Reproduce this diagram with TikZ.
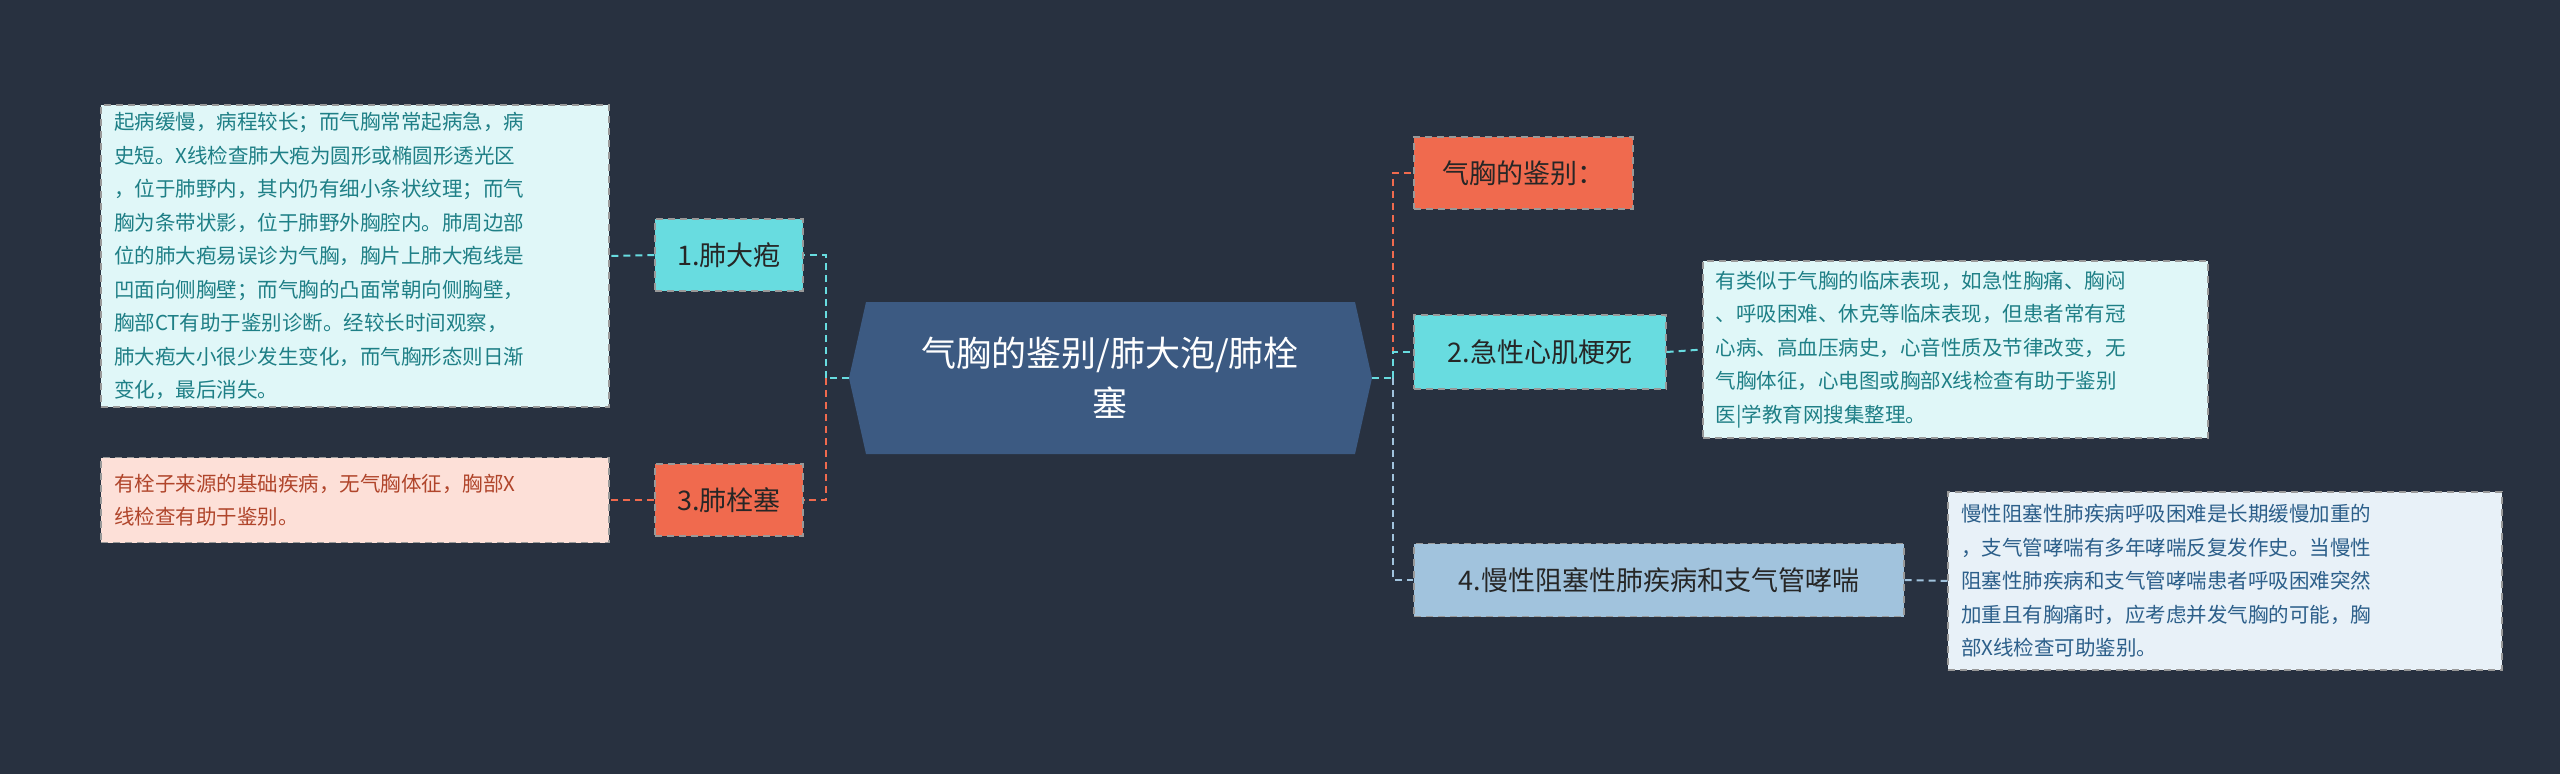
\documentclass[tikz,border=0pt]{standalone}
\usepackage{fontspec}
\setmainfont{Noto Sans CJK SC}
\begin{document}
\begin{tikzpicture}[x=1pt,y=-1pt,
  dl/.style={dash pattern=on 7pt off 5pt, line width=2pt},
  box/.style={draw=white!60!black, dl, line width=1.2pt, anchor=center, inner sep=0pt},
  detail/.style={box, align=left, font=\fontsize{20.5}{33.5}\selectfont},
  lab/.style={box, font=\fontsize{27}{32}\selectfont, text=black!85}]
\fill[fill={rgb,255:red,40;green,49;blue,64}] (0,0) rectangle (2560,774);
\useasboundingbox (0,0) rectangle (2560,774);
\definecolor{cy}{RGB}{104,220,224}
\definecolor{org}{RGB}{240,106,78}
\definecolor{bl}{RGB}{161,195,221}
\definecolor{ctr}{RGB}{60,90,130}
% center hexagon
\fill[ctr] (849,378) -- (866,302) -- (1355,302) -- (1372,378) -- (1355,454) -- (866,454) -- cycle;
\node[align=center, text=white, font=\fontsize{35}{50}\selectfont] (c) at (1110,378) {气胸的鉴别/肺大泡/肺栓\\塞};
\coordinate (cl) at (849,378);
\coordinate (cr) at (1372,378);
\coordinate (jl) at (826,378);
\coordinate (jr) at (1393,378);
% left nodes
\node[lab, fill=cy, minimum width=148pt, minimum height=72pt] (n1) at (729,255) {1.肺大疱};
\node[lab, fill=org, minimum width=148pt, minimum height=72pt] (n3) at (729,500) {3.肺栓塞};
\node[detail, fill={rgb,255:red,224;green,247;blue,248}, text={rgb,255:red,30;green,127;blue,134}, minimum width=508pt, minimum height=302pt, text width=482pt] (a) at (355,256) {起病缓慢，病程较长；而气胸常常起病急，病\\史短。X线检查肺大疱为圆形或椭圆形透光区\\，位于肺野内，其内仍有细小条状纹理；而气\\胸为条带状影，位于肺野外胸腔内。肺周边部\\位的肺大疱易误诊为气胸，胸片上肺大疱线是\\凹面向侧胸壁；而气胸的凸面常朝向侧胸壁，\\胸部CT有助于鉴别诊断。经较长时间观察，\\肺大疱大小很少发生变化，而气胸形态则日渐\\变化，最后消失。};
\node[detail, fill={rgb,255:red,253;green,224;blue,216}, text={rgb,255:red,176;green,69;blue,43}, minimum width=508pt, minimum height=85pt, text width=482pt] (cbox) at (355,500) {有栓子来源的基础疾病，无气胸体征，胸部X\\线检查有助于鉴别。};
% right nodes
\node[lab, fill=org, minimum width=219pt, minimum height=72pt] (r0) at (1523.5,173) {气胸的鉴别：};
\node[lab, fill=cy, minimum width=252pt, minimum height=74pt] (n2) at (1540,352) {2.急性心肌梗死};
\node[lab, fill=bl, minimum width=490pt, minimum height=73pt] (n4) at (1659,580) {4.慢性阻塞性肺疾病和支气管哮喘};
\node[detail, fill={rgb,255:red,224;green,247;blue,248}, text={rgb,255:red,30;green,127;blue,134}, minimum width=505pt, minimum height=177pt, text width=480pt] (b) at (1955.5,349.5) {有类似于气胸的临床表现，如急性胸痛、胸闷\\、呼吸困难、休克等临床表现，但患者常有冠\\心病、高血压病史，心音性质及节律改变，无\\气胸体征，心电图或胸部X线检查有助于鉴别\\医|学教育网搜集整理。};
\node[detail, fill={rgb,255:red,232;green,241;blue,248}, text={rgb,255:red,44;green,95;blue,138}, minimum width=554pt, minimum height=178pt, text width=528pt] (d) at (2225,581) {慢性阻塞性肺疾病呼吸困难是长期缓慢加重的\\，支气管哮喘有多年哮喘反复发作史。当慢性\\阻塞性肺疾病和支气管哮喘患者呼吸困难突然\\加重且有胸痛时，应考虑并发气胸的可能，胸\\部X线检查可助鉴别。};
% connectors
\draw[dl, cy] (cl) -- (jl);
\draw[dl, cy] (jl) |- (n1.east);
\draw[dl, org] (jl) |- (n3.east);
\draw[dl, cy] (n1.west) -- (a.east);
\draw[dl, org] (n3.west) -- (cbox.east);
\draw[dl, cy] (cr) -- (jr);
\draw[dl, org] (jr) |- (r0.west);
\draw[dl, cy] (jr) |- (n2.west);
\draw[dl, bl] (jr) |- (n4.west);
\draw[dl, cy] (n2.east) -- (b.west);
\draw[dl, bl] (n4.east) -- (d.west);
\end{tikzpicture}
\end{document}
